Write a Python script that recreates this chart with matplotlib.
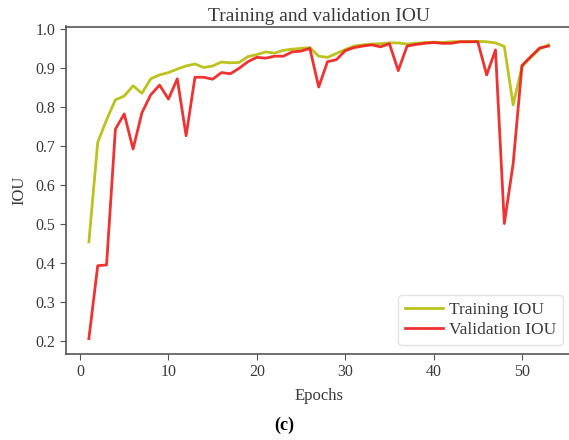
import matplotlib
matplotlib.use("Agg")
import matplotlib.pyplot as plt

# values
epochs = list(range(1, 54))
train_iou = [
    0.455, 0.710, 0.768, 0.819, 0.829, 0.855, 0.836, 0.873, 0.883, 0.889,
    0.898, 0.906, 0.911, 0.902, 0.906, 0.916, 0.914, 0.915, 0.930, 0.935,
    0.942, 0.939, 0.946, 0.949, 0.951, 0.953, 0.931, 0.928, 0.938, 0.948,
    0.957, 0.960, 0.962, 0.963, 0.965, 0.965, 0.962, 0.964, 0.966, 0.967,
    0.966, 0.968, 0.968, 0.968, 0.969, 0.968, 0.965, 0.956, 0.806, 0.905,
    0.928, 0.950, 0.960,
]
val_iou = [
    0.207, 0.394, 0.396, 0.744, 0.783, 0.693, 0.786, 0.832, 0.857, 0.821,
    0.873, 0.727, 0.877, 0.877, 0.872, 0.889, 0.886, 0.900, 0.917, 0.928,
    0.926, 0.931, 0.931, 0.942, 0.944, 0.951, 0.852, 0.917, 0.922, 0.945,
    0.953, 0.957, 0.960, 0.955, 0.963, 0.894, 0.957, 0.961, 0.964, 0.966,
    0.964, 0.964, 0.968, 0.968, 0.968, 0.883, 0.947, 0.502, 0.656, 0.907,
    0.930, 0.952, 0.957,
]

TXT = "#3a3a3a"
plt.rcParams["font.family"] = ["Liberation Serif", "DejaVu Serif"]

fig = plt.figure(figsize=(5.69, 4.40), dpi=100, facecolor="white")
ax = fig.add_axes([65.9 / 569, 86.5 / 440, 505.6 / 569, 327 / 440])

ax.plot(epochs, train_iou, color="#bcc21e", lw=2.0, label="Training IOU")
ax.plot(epochs, val_iou, color="#ee1c1c", lw=2.0, label="Validation IOU", alpha=0.9)

ax.set_yticks([0.2, 0.3, 0.4, 0.5, 0.6, 0.7, 0.8, 0.9, 1.0])
ax.set_xticks([0, 10, 20, 30, 40, 50])
ax.tick_params(colors="#555555", labelcolor=TXT, labelsize=11.5, length=4)
for spine in ax.spines.values():
    spine.set_color("#555555")
    spine.set_linewidth(1.2)

ax.set_title("Training and validation IOU", fontsize=14, color=TXT, pad=4)
ax.set_xlabel("Epochs", fontsize=12, color=TXT, labelpad=6)
ax.set_ylabel("IOU", fontsize=12, color=TXT, labelpad=6)

leg = ax.legend(loc="lower right", bbox_to_anchor=(1.0, 0.0),
                fontsize=12.5, labelcolor=TXT, handlelength=2.2,
                handletextpad=0.3, borderpad=0.4, labelspacing=0.2,
                borderaxespad=0.5)
leg.get_frame().set_edgecolor("#dddddd")

fig.text(284 / 569, 1 - 425 / 440, "(c)", ha="center", va="center",
         fontsize=13, fontweight="bold", color="black")

fig.savefig("out.png", dpi=100, facecolor="white")
